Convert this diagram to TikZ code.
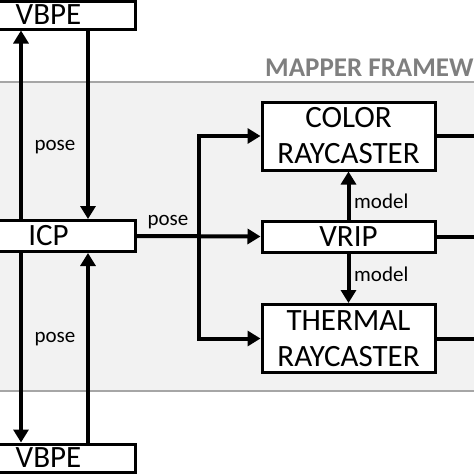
\documentclass[tikz,border=0pt]{standalone}
\usepackage{fontspec}
\setmainfont{Carlito}
\usetikzlibrary{arrows.meta}
\definecolor{bandfill}{HTML}{F2F2F2}
\definecolor{bandline}{HTML}{A6A6A6}
\definecolor{titlegray}{HTML}{7F7F7F}
\begin{document}
\begin{tikzpicture}[x=1pt,y=-1pt,
  box/.style={draw=black, line width=3pt, fill=white, inner sep=0pt, align=center,
    font=\fontsize{31}{36}\selectfont},
  conn/.style={line width=4pt, -{Triangle[width=15pt,length=13pt]}},
  wire/.style={line width=4pt},
  lbl/.style={font=\fontsize{21}{23}\selectfont, inner sep=0pt}]
\useasboundingbox (0,0) rectangle (474,474);
% framework band
\fill[bandfill] (0,82) rectangle (474,391);
\draw[bandline, line width=2.5pt] (0,82) -- (474,82);
\draw[bandline, line width=2.5pt] (0,391) -- (474,391);
\node[anchor=base west, inner sep=0pt, text=titlegray, font=\fontsize{27}{29}\selectfont\bfseries] (title) at (265,76) {MAPPER FRAMEW};
% boxes
\node[box, minimum width=173pt, minimum height=28pt] (vbpe1) at (48.5,15) {VBPE};
\node[box, minimum width=173pt, minimum height=31pt] (icp) at (48.5,236) {ICP};
\node[box, minimum width=173pt, minimum height=28pt] (vbpe2) at (48.5,458) {VBPE};
\node[box, minimum width=173pt, minimum height=68pt] (color) at (348.5,136) {COLOR\\RAYCASTER};
\node[box, minimum width=173pt, minimum height=31pt] (vrip) at (348.5,236.5) {VRIP};
\node[box, minimum width=173pt, minimum height=68pt] (thermal) at (348.5,338.5) {THERMAL\\RAYCASTER};
% helper coordinates
\coordinate (xl) at (21,0);
\coordinate (xr) at (88,0);
\coordinate (bx) at (199,0);
\coordinate (rx) at (480,0);
% VBPE <-> ICP
\draw[conn] (icp.north -| xl) -- (vbpe1.south -| xl);
\draw[conn] (vbpe1.south -| xr) -- (icp.north -| xr);
\draw[conn] (icp.south -| xl) -- (vbpe2.north -| xl);
\draw[conn] (vbpe2.north -| xr) -- (icp.south -| xr);
\node[lbl] (p1) at (55,147) {pose};
\node[lbl] (p2) at (55,339) {pose};
% ICP -> mapper
\draw[conn] (icp.east) -- (vrip.west);
\node[lbl] (p3) at (168,222) {pose};
\draw[line width=4pt, {Triangle[width=15pt,length=13pt]}-{Triangle[width=15pt,length=13pt]}]
  (thermal.west) -- (thermal.west -| bx) -- (color.west -| bx) -- (color.west);
% model arrows
\draw[conn] (vrip.north) -- (color.south);
\draw[conn] (vrip.south) -- (thermal.north);
\node[lbl, anchor=west] (m1) at (354,201) {model};
\node[lbl, anchor=west] (m2) at (354,274) {model};
% outputs to the right
\draw[wire] (color.east) -- (color.east -| rx);
\draw[wire] (vrip.east) -- (vrip.east -| rx);
\draw[wire] (thermal.east) -- (thermal.east -| rx);
\end{tikzpicture}
\end{document}
